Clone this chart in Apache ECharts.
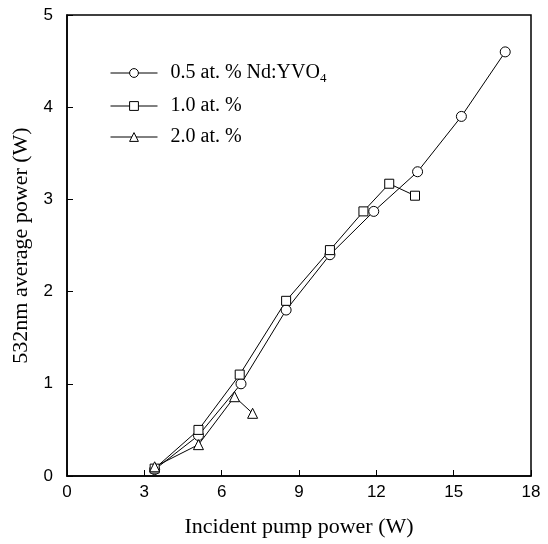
<!DOCTYPE html>
<html>
<head>
    <meta charset="UTF-8"/>
    <script src="https://cdn.jsdelivr.net/npm/echarts@6/dist/echarts.min.js"></script>
    <title>532nm average power</title>
    <style>
        html, body {margin: 0; padding: 0; background: #fff;}
        #main {width: 548px; height: 544px;}
    </style>
</head>
<body>
<div id="main"></div>
<script type="text/javascript">
    // data: [pump power (W), 532nm power (W)]
    var nd05 = [[3.4, 0.07], [5.1, 0.44], [6.75, 1.0], [8.5, 1.8], [10.2, 2.4],
                [11.9, 2.87], [13.6, 3.3], [15.3, 3.9], [17.0, 4.6]];
    var nd10 = [[3.4, 0.08], [5.1, 0.5], [6.7, 1.1], [8.5, 1.9], [10.2, 2.45],
                [11.5, 2.87], [12.5, 3.17], [13.5, 3.04]];
    var nd20 = [[3.4, 0.1], [5.1, 0.34], [6.5, 0.86], [7.2, 0.68]];
    var seriesNames = ['0.5 at. % Nd:YVO4', '1.0 at. %', '2.0 at. %'];
    var xTicks = [0, 18, 3];   // min, max, step
    var yTicks = [0, 5, 1];

    var myChart = echarts.init(document.getElementById('main'));

    function mkSeries(name, data, symbol, size) {
        return {
            name: name,
            type: 'line',
            data: data,
            symbol: symbol,
            symbolSize: size,
            showAllSymbol: true,
            itemStyle: {color: '#fff', borderColor: '#000', borderWidth: 1},
            lineStyle: {color: '#000', width: 1},
            emphasis: {disabled: true},
            z: 3
        };
    }

    var option = {
        animation: false,
        backgroundColor: '#fff',
        grid: {
            left: 67, right: 17, top: 15, bottom: 68,
            show: true, borderColor: '#000', borderWidth: 1.5
        },
        legend: {
            orient: 'vertical',
            left: 110, top: 63, padding: 0,
            itemWidth: 47, itemHeight: 11, itemGap: 11,
            data: seriesNames,
            itemStyle: {color: '#fff', borderColor: '#000', borderWidth: 1},
            lineStyle: {color: '#000', width: 1},
            formatter: function (n) {
                if (n === seriesNames[0]) return '{t|0.5 at. % Nd:YVO}{s|4}';
                return '{t|' + n + '}';
            },
            textStyle: {
                rich: {
                    t: {fontFamily: 'Liberation Serif', fontSize: 20, color: '#000', padding: [0, 0, 0, 8]},
                    s: {fontFamily: 'Liberation Serif', fontSize: 13, color: '#000', padding: [11, 0, 0, 0]}
                }
            }
        },
        xAxis: {
            type: 'value',
            min: xTicks[0], max: xTicks[1], interval: xTicks[2],
            name: 'Incident pump power (W)',
            nameLocation: 'middle', nameGap: 40,
            nameTextStyle: {fontFamily: 'Liberation Serif', fontSize: 22, color: '#000'},
            axisLine: {lineStyle: {color: '#000', width: 1.5}},
            axisTick: {inside: true, length: 6, lineStyle: {color: '#000'}},
            axisLabel: {fontFamily: 'Liberation Sans', fontSize: 17, color: '#000', margin: 8},
            splitLine: {show: false}
        },
        yAxis: {
            type: 'value',
            min: yTicks[0], max: yTicks[1], interval: yTicks[2],
            name: '532nm average power (W)',
            nameLocation: 'middle', nameGap: 29,
            nameTextStyle: {fontFamily: 'Liberation Serif', fontSize: 22, color: '#000'},
            axisLine: {lineStyle: {color: '#000', width: 1.5}},
            axisTick: {inside: true, length: 6, lineStyle: {color: '#000'}},
            axisLabel: {fontFamily: 'Liberation Sans', fontSize: 17, color: '#000', margin: 14},
            splitLine: {show: false}
        },
        series: [
            mkSeries(seriesNames[0], nd05, 'circle', 10),
            mkSeries(seriesNames[1], nd10, 'rect', 9),
            mkSeries(seriesNames[2], nd20, 'triangle', 10)
        ]
    };
    myChart.setOption(option);
</script>
</body>
</html>
